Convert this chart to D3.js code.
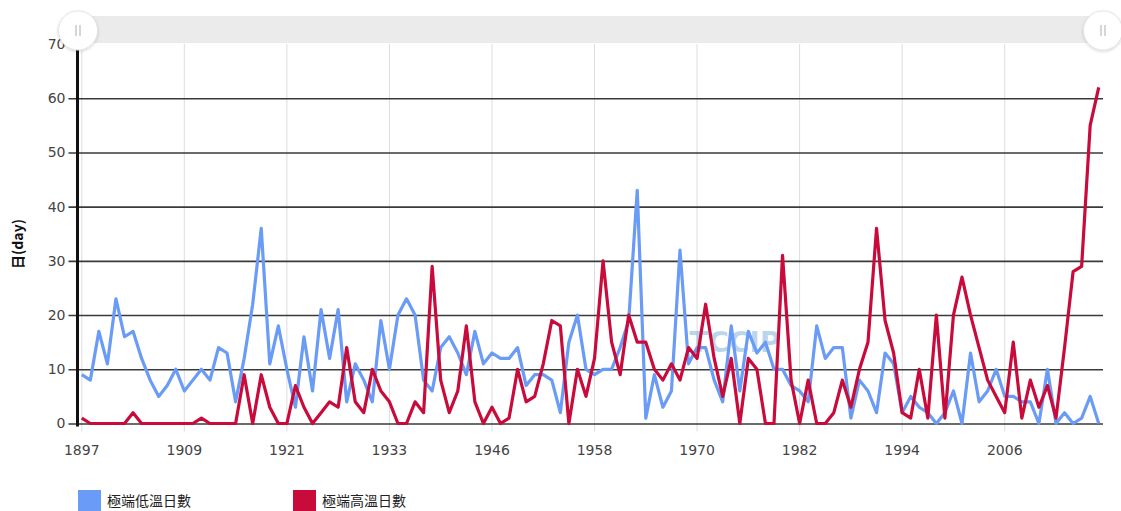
<!DOCTYPE html>
<html>
<head>
<meta charset="utf-8">
<script src="https://cdn.jsdelivr.net/npm/d3@7"></script>
<style>
  html, body { margin: 0; padding: 0; background: #fff; }
  svg { display: block; }
</style>
</head>
<body>
<svg id="chart" width="1121" height="511"></svg>
<script>
const years = [
  "1897","1898","1899","1900","1901","1902","1903","1904","1905","1906",
  "1907","1908","1909","1910","1911","1912","1913","1914","1915","1916",
  "1917","1918","1919","1920","1921","1922","1923","1924","1925","1926",
  "1927","1928","1929","1930","1931","1932","1933","1934","1935","1936",
  "1937","1938","1939","1940","1941","1942","1943","1944","1946","1947",
  "1948","1949","1950","1951","1952","1953","1954","1955","1956","1957",
  "1958","1959","1960","1961","1962","1963","1964","1965","1966","1967",
  "1968","1969","1970","1971","1972","1973","1974","1975","1976","1977",
  "1978","1979","1980","1981","1982","1983","1984","1985","1986","1987",
  "1988","1989","1990","1991","1992","1993","1994","1995","1996","1997",
  "1998","1999","2000","2001","2002","2003","2004","2005","2006","2007",
  "2008","2009","2010","2011","2012","2013","2014","2015","2016","2017"
];
const coldDays = [
  9, 8, 17, 11, 23, 16, 17, 12, 8, 5,
  7, 10, 6, 8, 10, 8, 14, 13, 4, 12,
  22, 36, 11, 18, 10, 3, 16, 6, 21, 12,
  21, 4, 11, 8, 4, 19, 10, 20, 23, 20,
  8, 6, 14, 16, 13, 9, 17, 11, 13, 12,
  12, 14, 7, 9, 9, 8, 2, 15, 20, 10,
  9, 10, 10, 14, 19, 43, 1, 9, 3, 6,
  32, 11, 14, 14, 8, 4, 18, 6, 17, 13,
  15, 10, 10, 7, 6, 4, 18, 12, 14, 14,
  1, 8, 6, 2, 13, 11, 2, 5, 3, 2,
  0, 2, 6, 0, 13, 4, 6, 10, 5, 5,
  4, 4, 0, 10, 0, 2, 0, 1, 5, 0
];
const hotDays = [
  1, 0, 0, 0, 0, 0, 2, 0, 0, 0,
  0, 0, 0, 0, 1, 0, 0, 0, 0, 9,
  0, 9, 3, 0, 0, 7, 3, 0, 2, 4,
  3, 14, 4, 2, 10, 6, 4, 0, 0, 4,
  2, 29, 8, 2, 6, 18, 4, 0, 3, 0,
  1, 10, 4, 5, 11, 19, 18, 0, 10, 5,
  12, 30, 15, 9, 20, 15, 15, 10, 8, 11,
  8, 14, 12, 22, 12, 5, 12, 0, 12, 10,
  0, 0, 31, 8, 0, 8, 0, 0, 2, 8,
  3, 10, 15, 36, 19, 13, 2, 1, 10, 1,
  20, 1, 20, 27, 20, 14, 8, 5, 2, 15,
  1, 8, 3, 7, 1, 14, 28, 29, 55, 62
];
const yTicks = [0, 10, 20, 30, 40, 50, 60, 70];
const xLabelYears = ["1897","1909","1921","1933","1946","1958","1970","1982","1994","2006"];
const seriesNames = ["極端低溫日數", "極端高溫日數"];
const seriesColors = ["#6a9bf6", "#c90b3c"];

const svg = d3.select("#chart");
const pL = 77.5, pR = 1103, pT = 44, pB = 423.5;

const x = d3.scaleBand().domain(years).range([pL, pR]).padding(0);
const cx = d => x(d) + x.bandwidth() / 2;
const y = d3.scaleLinear().domain([0, 70]).range([pB, pT]);

// vertical grid lines
svg.append("g").selectAll("line").data(xLabelYears).join("line")
  .attr("x1", d => cx(d)).attr("x2", d => cx(d))
  .attr("y1", pT).attr("y2", pB + 8)
  .attr("stroke", "#dddddd").attr("stroke-width", 1);

// horizontal grid lines + left ticks
const yAxis = d3.axisLeft(y).tickValues(yTicks).tickSize(-(pR - pL)).tickPadding(12);
const gy = svg.append("g").attr("transform", `translate(${pL},0)`).call(yAxis);
gy.select(".domain").remove();
gy.selectAll(".tick line")
  .attr("x1", -9)
  .attr("stroke", "#3a3a3a").attr("stroke-width", 1.6)
  .attr("display", d => d === 70 ? "none" : null);
gy.selectAll(".tick text")
  .attr("font-family", "DejaVu Sans, Verdana, sans-serif")
  .attr("font-size", 14).attr("fill", "#444");

// x labels
const xAxis = d3.axisBottom(x).tickValues(xLabelYears).tickSize(0).tickPadding(22);
const gx = svg.append("g").attr("transform", `translate(0,${pB})`).call(xAxis);
gx.select(".domain").remove();
gx.selectAll(".tick text")
  .attr("font-family", "DejaVu Sans, Verdana, sans-serif")
  .attr("font-size", 14).attr("fill", "#444");

// watermark
svg.append("text")
  .attr("x", 735).attr("y", 352)
  .attr("text-anchor", "middle")
  .attr("font-family", "DejaVu Sans, sans-serif")
  .attr("font-weight", "bold").attr("font-size", 28)
  .attr("fill", "#6aa6d6").attr("opacity", 0.45)
  .text("TCCIP");

// lines
const line = d3.line().x((d, i) => cx(years[i])).y(d => y(d));
[coldDays, hotDays].forEach((s, k) => {
  svg.append("path").datum(s)
    .attr("d", line)
    .attr("fill", "none")
    .attr("stroke", seriesColors[k])
    .attr("stroke-width", 3.2)
    .attr("stroke-linejoin", "round");
});

// y-axis line
svg.append("line")
  .attr("x1", pL).attr("x2", pL)
  .attr("y1", pT + 2).attr("y2", pB + 3)
  .attr("stroke", "#111").attr("stroke-width", 3);

// y title
svg.append("text")
  .attr("transform", "translate(23,244) rotate(-90)")
  .attr("text-anchor", "middle")
  .attr("font-family", "Noto Sans CJK TC, DejaVu Sans, sans-serif")
  .attr("font-weight", "bold").attr("font-size", 14).attr("fill", "#111")
  .text("日(day)");

// scrollbar
svg.append("rect")
  .attr("x", pL).attr("y", 16).attr("width", pR - pL).attr("height", 27)
  .attr("fill", "#ebebeb");
const defs = svg.append("defs");
const f = defs.append("filter").attr("id", "sh").attr("x", "-50%").attr("y", "-50%").attr("width", "200%").attr("height", "200%");
f.append("feDropShadow").attr("dx", 0).attr("dy", 1).attr("stdDeviation", 1.5).attr("flood-color", "#000").attr("flood-opacity", 0.18);
[pL + 0.5, pR].forEach(hx => {
  svg.append("circle").attr("cx", hx).attr("cy", 30.5).attr("r", 19.5)
    .attr("fill", "#fff").attr("stroke", "#e4e4e4").attr("stroke-width", 1)
    .attr("filter", "url(#sh)");
  [-2, 2].forEach(dx => {
    svg.append("line")
      .attr("x1", hx + dx).attr("x2", hx + dx)
      .attr("y1", 25).attr("y2", 36)
      .attr("stroke", "#bbb").attr("stroke-width", 1.2);
  });
});

// legend
const legX = [78, 293];
seriesNames.forEach((n, k) => {
  svg.append("rect").attr("x", legX[k]).attr("y", 490)
    .attr("width", 23).attr("height", 22).attr("fill", seriesColors[k]);
  svg.append("text").attr("x", legX[k] + 29).attr("y", 502)
    .attr("dominant-baseline", "middle")
    .attr("font-family", "Noto Sans CJK TC, sans-serif")
    .attr("font-size", 14).attr("fill", "#222")
    .text(n);
});
</script>
</body>
</html>
